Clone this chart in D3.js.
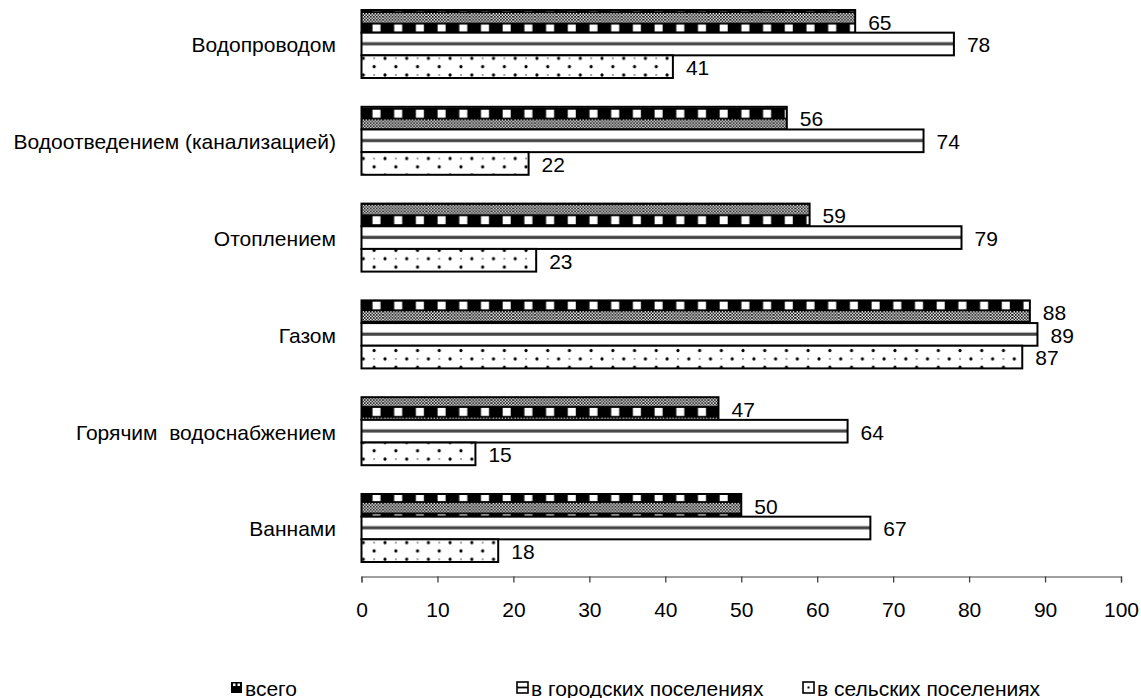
<!DOCTYPE html>
<html>
<head>
<meta charset="utf-8">
<script src="https://cdn.jsdelivr.net/npm/d3@7"></script>
<style>
  body { margin: 0; background: #fff; }
  text { font-family: "Liberation Sans", Arial, sans-serif; font-size: 21px; fill: #000; white-space: pre; }
</style>
</head>
<body>
<div id="container"></div>
<script>
const categories = ['Водопроводом', 'Водоотведением (канализацией)', 'Отоплением', 'Газом', 'Горячим  водоснабжением', 'Ваннами'];
const series = ['всего', 'в городских поселениях', 'в сельских поселениях'];
const vsego = [65, 56, 59, 88, 47, 50];
const gorod = [78, 74, 79, 89, 64, 67];
const selo = [41, 22, 23, 87, 15, 18];
const ticks = [0, 10, 20, 30, 40, 50, 60, 70, 80, 90, 100];

const width = 1141, height = 698;
const values = [vsego, gorod, selo];
const fills = ['url(#p-vsego)', 'url(#p-gorod)', 'url(#p-selo)'];

const svg = d3.select('#container').append('svg')
  .attr('width', width)
  .attr('height', height);

const defs = svg.append('defs');

// gray dither used in top part of the "всего" pattern
const dith = defs.append('pattern').attr('id', 'dith')
  .attr('patternUnits', 'userSpaceOnUse').attr('width', 3).attr('height', 3);
dith.append('rect').attr('width', 3).attr('height', 3).attr('fill', '#fff');
dith.append('rect').attr('width', 1.5).attr('height', 1.5).attr('fill', '#000');
dith.append('rect').attr('x', 1.5).attr('y', 1.5).attr('width', 1.5).attr('height', 1.5).attr('fill', '#000');

const pv = defs.append('pattern').attr('id', 'p-vsego')
  .attr('patternUnits', 'userSpaceOnUse').attr('width', 21.7).attr('height', 21.3)
  .attr('patternTransform', 'translate(361,13)');
pv.append('rect').attr('width', 21.7).attr('height', 9.5).attr('fill', 'url(#dith)');
pv.append('rect').attr('y', 9.5).attr('width', 21.7).attr('height', 11.8).attr('fill', '#000');
pv.append('rect').attr('x', 11.5).attr('y', 11.5).attr('width', 8).attr('height', 8).attr('fill', '#fff');

const pg = defs.append('pattern').attr('id', 'p-gorod')
  .attr('patternUnits', 'objectBoundingBox').attr('patternContentUnits', 'objectBoundingBox')
  .attr('width', 1).attr('height', 1);
pg.append('rect').attr('width', 1).attr('height', 1).attr('fill', '#fff');
pg.append('rect').attr('y', 0.42).attr('width', 1).attr('height', 0.14).attr('fill', '#444');

const ps = defs.append('pattern').attr('id', 'p-selo')
  .attr('patternUnits', 'userSpaceOnUse').attr('width', 21.7).attr('height', 16.7)
  .attr('patternTransform', 'translate(363.3,58.3)');
ps.append('rect').attr('x', -1).attr('y', -1).attr('width', 23).attr('height', 18).attr('fill', '#fff');
[[0, 0], [21.7, 0], [0, 16.7], [21.7, 16.7], [10.85, 8.35]].forEach(p => {
  ps.append('circle').attr('cx', p[0]).attr('cy', p[1]).attr('r', 1.6).attr('fill', '#000');
});
ps.append('rect').attr('x', 9.85).attr('y', -0.6).attr('width', 2).attr('height', 1.2).attr('fill', '#666');
ps.append('rect').attr('x', 9.85).attr('y', 16.1).attr('width', 2).attr('height', 1.2).attr('fill', '#666');

const x = d3.scaleLinear().domain([0, 100]).range([361.5, 1121]);
const y = d3.scaleBand().domain(categories).range([-4.4, 576.4]);
const inner = d3.scaleBand().domain(series).range([0, 68]);
const off = (y.bandwidth() - 68) / 2;

// axis
const axis = svg.append('g')
  .attr('transform', 'translate(0,576.5)')
  .call(d3.axisBottom(x).tickValues(ticks).tickSize(6).tickPadding(20));
axis.select('.domain').attr('stroke', '#808080').attr('stroke-width', 1.3);
axis.selectAll('.tick line').attr('stroke', '#404040').attr('stroke-width', 1.3);
axis.selectAll('.tick text').attr('font-size', 21).attr('font-family', '"Liberation Sans", Arial, sans-serif').attr('fill', '#000');

// category labels
svg.append('g').selectAll('text')
  .data(categories).enter().append('text')
  .attr('x', 336)
  .attr('y', d => y(d) + y.bandwidth() / 2 + 1)
  .attr('dy', '0.35em')
  .attr('text-anchor', 'end')
  .text(d => d);

// bars
series.forEach((s, si) => {
  const g = svg.append('g');
  const rows = categories.map((c, i) => ({ c: c, v: values[si][i] }));
  g.selectAll('rect')
    .data(rows).enter().append('rect')
    .attr('x', x(0))
    .attr('y', d => y(d.c) + off + inner(s))
    .attr('width', d => x(d.v) - x(0))
    .attr('height', inner.bandwidth())
    .attr('fill', fills[si])
    .attr('stroke', '#000')
    .attr('stroke-width', 2);
  g.selectAll('text')
    .data(rows).enter().append('text')
    .attr('x', d => x(d.v) + 13)
    .attr('y', d => y(d.c) + off + inner(s) + inner.bandwidth() / 2 + 1)
    .attr('dy', '0.35em')
    .text(d => d.v);
});

// legend
const legendX = [231, 517, 803];
const leg = svg.append('g');
series.forEach((s, i) => {
  const lg = leg.append('g').attr('transform', `translate(${legendX[i]},682)`);
  if (i === 0) {
    lg.append('rect').attr('width', 11).attr('height', 11).attr('fill', '#000');
    lg.append('rect').attr('x', 2).attr('y', 1.5).attr('width', 2.5).attr('height', 2.5).attr('fill', '#fff');
    lg.append('rect').attr('x', 6.5).attr('y', 1.5).attr('width', 2.5).attr('height', 2.5).attr('fill', '#fff');
  } else if (i === 1) {
    lg.append('rect').attr('width', 11).attr('height', 11).attr('fill', '#fff').attr('stroke', '#000').attr('stroke-width', 1.6);
    lg.append('rect').attr('x', 0).attr('y', 4.6).attr('width', 11).attr('height', 1.8).attr('fill', '#000');
  } else {
    lg.append('rect').attr('width', 11).attr('height', 11).attr('fill', '#fff').attr('stroke', '#000').attr('stroke-width', 1.6);
    lg.append('rect').attr('x', 4.5).attr('y', 4.5).attr('width', 2).attr('height', 2).attr('fill', '#000');
  }
  lg.append('text').attr('x', 14).attr('y', 13.5).text(s);
});
</script>
</body>
</html>
